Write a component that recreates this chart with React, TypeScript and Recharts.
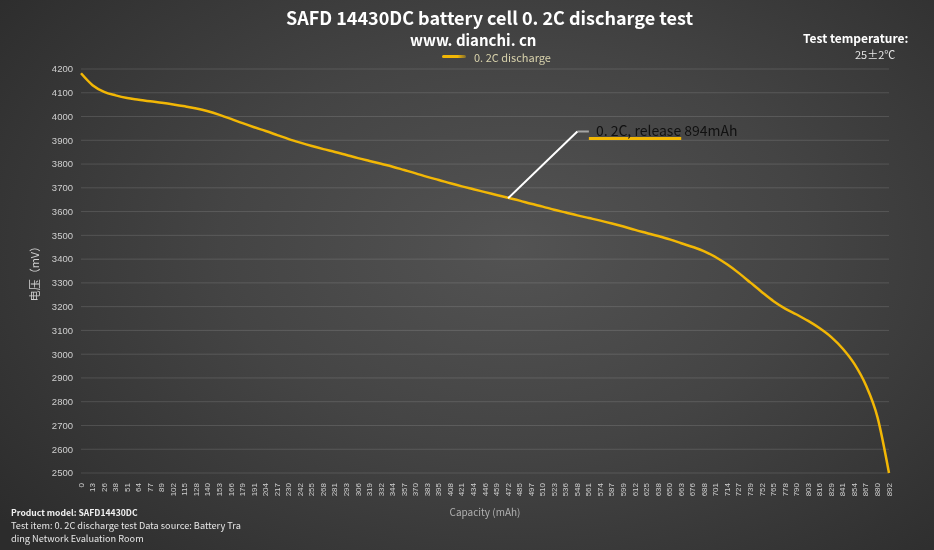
import React from 'react';
import {
  LineChart,
  Line,
  XAxis,
  YAxis,
  CartesianGrid,
  ReferenceLine,
  ReferenceDot,
} from 'recharts';

const capacityLabels = [
  '0', '13', '26', '38', '51', '64', '77', '89', '102', '115',
  '128', '140', '153', '166', '179', '191', '204', '217', '230', '242',
  '255', '268', '281', '293', '306', '319', '332', '344', '357', '370',
  '383', '395', '408', '421', '434', '446', '459', '472', '485', '497',
  '510', '523', '536', '548', '561', '574', '587', '599', '612', '625',
  '638', '650', '663', '676', '688', '701', '714', '727', '739', '752',
  '765', '778', '790', '803', '816', '829', '841', '854', '867', '880',
  '892',
];

const voltage = [
  4182, 4132, 4104, 4089, 4078, 4071, 4064, 4058, 4051, 4043,
  4034, 4022, 4007, 3990, 3972, 3955, 3939, 3922, 3905, 3890,
  3876, 3863, 3851, 3838, 3825, 3813, 3801, 3789, 3775, 3761,
  3746, 3733, 3719, 3706, 3694, 3682, 3670, 3658, 3646, 3633,
  3621, 3608, 3596, 3584, 3573, 3562, 3550, 3537, 3523, 3510,
  3497, 3483, 3467, 3451, 3433, 3408, 3377, 3341, 3301, 3261,
  3223, 3192, 3167, 3140, 3109, 3072, 3023, 2959, 2869, 2735,
  2500,
];

const yTicks = [
  2500, 2600, 2700, 2800, 2900, 3000, 3100, 3200, 3300, 3400,
  3500, 3600, 3700, 3800, 3900, 4000, 4100, 4200,
];

const seriesName = '0. 2C discharge';
const annotationText = '0. 2C, release 894mAh';
const annoStart = { x: '472', y: 3656 };
const annoElbow = { x: '548', y: 3937 };
const annoEnd = { x: '561', y: 3937 };
const underlineStart = { x: '561', y: 3908 };
const underlineEnd = { x: '663', y: 3908 };

const data = capacityLabels.map((c, i) => ({ capacity: c, v: voltage[i] }));

const FONT = "'Noto Sans CJK SC', 'Noto Sans', sans-serif";
const LINE_COLOR = '#F2B705';

const XTick = (props: any) => {
  const { x, y, payload } = props;
  return (
    <text
      x={x}
      y={y}
      transform={`rotate(-90 ${x} ${y})`}
      textAnchor="end"
      dominantBaseline="central"
      fontSize={8}
      fontFamily="'Liberation Sans', Arial, sans-serif"
      fill="#cfcfcf"
    >
      {payload.value}
    </text>
  );
};

const T = ({
  x,
  y,
  size,
  color,
  bold,
  children,
}: {
  x: number;
  y: number;
  size: number;
  color: string;
  bold?: boolean;
  children: React.ReactNode;
}) => (
  <div
    style={{
      position: 'absolute',
      left: x,
      top: y,
      transform: 'translateY(-50%)',
      fontSize: size,
      lineHeight: 1,
      color,
      fontWeight: bold ? 700 : 400,
      fontFamily: FONT,
      whiteSpace: 'nowrap',
      pointerEvents: 'none',
    }}
  >
    {children}
  </div>
);

export default function App() {
  return (
    <div
      style={{
        position: 'fixed',
        left: 0,
        top: 0,
        width: 934,
        height: 550,
        overflow: 'hidden',
        background:
          'radial-gradient(ellipse 70% 80% at 55% 45%, #535353 0%, #444444 45%, #2c2c2c 100%)',
      }}
    >
      <LineChart
        width={934}
        height={550}
        data={data}
        margin={{ top: 69, right: 45, bottom: 0, left: 0 }}
      >
        <CartesianGrid vertical={false} stroke="rgba(255,255,255,0.13)" />
        <XAxis
          dataKey="capacity"
          interval={0}
          axisLine={false}
          tickLine={false}
          height={77}
          tick={<XTick />}
          tickMargin={4}
          label={{
            value: 'Capacity (mAh)',
            position: 'center',
            fill: '#b0b0b0',
            fontSize: 10,
            fontFamily: FONT,
            dy: 1,
          }}
        />
        <YAxis
          domain={[2500, 4200]}
          ticks={yTicks}
          interval={0}
          width={81}
          axisLine={false}
          tickLine={false}
          tick={{ fill: '#cfcfcf', fontSize: 9.5, fontFamily: "'Liberation Sans', Arial, sans-serif" }}
          label={{
            value: '电压（mV）',
            angle: -90,
            position: 'center',
            dx: -5,
            fill: '#cfcfcf',
            fontSize: 11,
            fontFamily: FONT,
          }}
        />
        <Line
          type="monotone"
          dataKey="v"
          name={seriesName}
          stroke={LINE_COLOR}
          strokeWidth={2.5}
          dot={false}
          activeDot={false}
          isAnimationActive={false}
        />
        <ReferenceLine
          segment={[annoStart, annoElbow]}
          stroke="#ffffff"
          strokeWidth={2}
        />
        <ReferenceLine
          segment={[annoElbow, annoEnd]}
          stroke="rgba(255,255,255,0.5)"
          strokeWidth={2}
        />
        <ReferenceLine
          segment={[underlineStart, underlineEnd]}
          stroke={LINE_COLOR}
          strokeWidth={3}
        />
        <ReferenceDot
          x={annoEnd.x}
          y={annoEnd.y}
          r={0}
          fill="none"
          stroke="none"
          label={{
            value: annotationText,
            position: 'right',
            offset: 7,
            fill: '#111111',
            fontSize: 14,
            fontFamily: FONT,
          }}
        />
      </LineChart>

      <T x={286} y={17} size={18} color="#ffffff" bold>
        SAFD 14430DC battery cell 0. 2C discharge test
      </T>
      <T x={410} y={39} size={15} color="#ffffff" bold>
        www. dianchi. cn
      </T>
      <div
        style={{
          position: 'absolute',
          left: 442,
          top: 55,
          width: 24,
          height: 3,
          borderRadius: 2,
          background: `linear-gradient(to right, ${LINE_COLOR} 0%, ${LINE_COLOR} 65%, rgba(242,183,5,0.35) 100%)`,
        }}
      />
      <T x={474} y={57} size={11} color="#d8d2ac">
        {seriesName}
      </T>
      <T x={803} y={38} size={12} color="#ffffff" bold>
        Test temperature:
      </T>
      <T x={855} y={54} size={11} color="#e6e6e6">
        25±2℃
      </T>
      <T x={11} y={512} size={8.6} color="#f0f0f0" bold>
        Product model: SAFD14430DC
      </T>
      <T x={11} y={526} size={9.2} color="#e6e6e6">
        Test item: 0. 2C discharge test Data source: Battery Tra
      </T>
      <T x={11} y={539} size={9.2} color="#e6e6e6">
        ding Network Evaluation Room
      </T>
    </div>
  );
}
